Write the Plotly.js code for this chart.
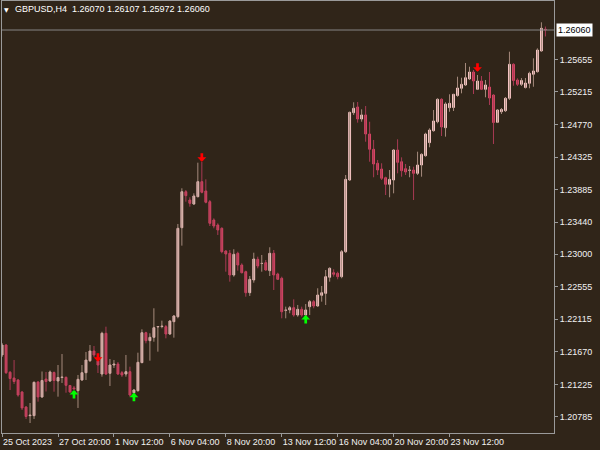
<!DOCTYPE html>
<html><head><meta charset="utf-8">
<script src="https://cdn.plot.ly/plotly-3.0.1.min.js"></script>
<style>html,body{margin:0;padding:0;background:#302519;}#chart{width:600px;height:450px;}</style>
</head><body><div id="chart"></div>
<script>
const symbolName = "GBPUSD,H4";
const opens = [1.21627,1.21763,1.21391,1.21313,1.21286,1.21122,1.20917,1.20799,1.20799,1.21258,1.21054,1.21299,1.21272,1.21388,1.21272,1.21320,1.21322,1.21211,1.21177,1.21140,1.21286,1.21385,1.21549,1.21681,1.21545,1.21367,1.21923,1.21377,1.21490,1.21504,1.21385,1.21367,1.21399,1.21112,1.21140,1.21522,1.21931,1.21822,1.21868,1.22009,1.22015,1.22013,1.21913,1.22081,1.22149,1.23363,1.23854,1.23741,1.23686,1.23786,1.23991,1.23864,1.23718,1.23468,1.23400,1.23355,1.23045,1.23014,1.22718,1.23014,1.22854,1.22763,1.22476,1.22650,1.22932,1.22875,1.22886,1.22777,1.23014,1.22732,1.22673,1.22236,1.22241,1.22272,1.22172,1.22250,1.22172,1.22286,1.22354,1.22295,1.22441,1.22468,1.22687,1.22749,1.22741,1.22695,1.23036,1.24014,1.24932,1.25010,1.24846,1.24901,1.24641,1.24433,1.24242,1.24164,1.24045,1.23955,1.24014,1.24423,1.24263,1.24168,1.24146,1.24150,1.24105,1.24218,1.24345,1.24523,1.24686,1.24809,1.25115,1.24727,1.25000,1.25003,1.25166,1.25265,1.25310,1.25392,1.25487,1.25251,1.25364,1.25251,1.25282,1.25173,1.24801,1.24945,1.24959,1.25128,1.25592,1.25378,1.25319,1.25276,1.25333,1.25456,1.25491,1.25774,1.26070];
const highs = [1.21790,1.21777,1.21408,1.21558,1.21299,1.21136,1.20931,1.20972,1.21265,1.21272,1.21402,1.21395,1.21415,1.21402,1.21490,1.21640,1.21333,1.21217,1.21204,1.21354,1.21490,1.21668,1.21763,1.21749,1.21552,1.21944,1.22013,1.21572,1.21558,1.21531,1.21408,1.21627,1.21467,1.21163,1.21658,1.21977,1.21944,1.21923,1.22264,1.22022,1.22095,1.22036,1.22104,1.22172,1.23414,1.23901,1.23877,1.23778,1.23832,1.24250,1.24263,1.24023,1.23741,1.23491,1.23423,1.23369,1.23059,1.23059,1.23069,1.23036,1.22877,1.22777,1.22704,1.23022,1.22968,1.22991,1.22923,1.23096,1.23059,1.22749,1.22695,1.22286,1.22295,1.22386,1.22309,1.22286,1.22322,1.22377,1.22377,1.22537,1.22568,1.22786,1.22823,1.22796,1.22763,1.23059,1.24082,1.24945,1.25074,1.25078,1.24978,1.25023,1.24809,1.24560,1.24287,1.24242,1.24059,1.24150,1.24433,1.24569,1.24323,1.24232,1.24205,1.24195,1.24400,1.24378,1.24659,1.24719,1.24969,1.25128,1.25128,1.25074,1.25183,1.25187,1.25423,1.25409,1.25610,1.25559,1.25514,1.25446,1.25432,1.25378,1.25487,1.25183,1.24982,1.24996,1.25146,1.25764,1.25606,1.25401,1.25405,1.25405,1.25491,1.25674,1.25810,1.26165,1.26107];
const lows = [1.21599,1.21367,1.21149,1.21231,1.21058,1.20876,1.20754,1.20699,1.20754,1.20990,1.21040,1.21129,1.21258,1.21126,1.21058,1.21245,1.21112,1.21115,1.21156,1.20904,1.21272,1.21286,1.21531,1.21599,1.21381,1.21331,1.21354,1.21204,1.21449,1.21354,1.21327,1.21331,1.21058,1.21108,1.21126,1.21518,1.21786,1.21549,1.21808,1.21672,1.21991,1.21854,1.21899,1.21863,1.22127,1.23118,1.23718,1.23650,1.23673,1.23778,1.23832,1.23696,1.23386,1.23355,1.23264,1.23014,1.22763,1.22627,1.22695,1.22777,1.22741,1.22422,1.22432,1.22613,1.22809,1.22763,1.22777,1.22704,1.22513,1.22650,1.22127,1.22127,1.22196,1.22149,1.22149,1.22149,1.22163,1.22172,1.22264,1.22286,1.22354,1.22309,1.22627,1.22695,1.22659,1.22673,1.23018,1.24000,1.24901,1.24796,1.24809,1.24536,1.24263,1.24051,1.24082,1.24014,1.23809,1.23778,1.23832,1.24105,1.24059,1.24082,1.24051,1.23741,1.24082,1.24059,1.24332,1.24460,1.24673,1.24787,1.24614,1.24605,1.24945,1.24955,1.25150,1.25196,1.25296,1.25378,1.25187,1.25241,1.25241,1.25142,1.25037,1.24505,1.24791,1.24914,1.24941,1.25105,1.25300,1.25296,1.25296,1.25262,1.25265,1.25286,1.25480,1.25764,1.25972];
const closes = [1.21763,1.21385,1.21306,1.21265,1.21081,1.20904,1.20788,1.20808,1.21254,1.21054,1.21279,1.21265,1.21395,1.21279,1.21320,1.21327,1.21213,1.21122,1.21163,1.21295,1.21385,1.21558,1.21681,1.21627,1.21490,1.21923,1.21367,1.21490,1.21504,1.21367,1.21354,1.21399,1.21081,1.21149,1.21527,1.21931,1.21822,1.21868,1.21999,1.22015,1.22022,1.21913,1.22090,1.22159,1.23355,1.23854,1.23800,1.23696,1.23796,1.23991,1.23846,1.23710,1.23423,1.23386,1.23332,1.23036,1.23004,1.22718,1.23000,1.22854,1.22749,1.22476,1.22659,1.22936,1.22841,1.22877,1.22786,1.23014,1.22718,1.22659,1.22217,1.22241,1.22272,1.22172,1.22250,1.22172,1.22241,1.22354,1.22295,1.22445,1.22476,1.22695,1.22809,1.22728,1.22695,1.23036,1.24023,1.24937,1.24992,1.24846,1.24901,1.24641,1.24433,1.24232,1.24150,1.24037,1.23955,1.24023,1.24423,1.24255,1.24141,1.24123,1.24150,1.24105,1.24218,1.24364,1.24641,1.24696,1.24819,1.25115,1.24737,1.25051,1.25060,1.25183,1.25269,1.25319,1.25409,1.25487,1.25364,1.25364,1.25251,1.25310,1.25132,1.24798,1.24969,1.24976,1.25128,1.25592,1.25371,1.25319,1.25371,1.25337,1.25469,1.25501,1.25787,1.26083,1.26060];
const buySignalBars = [18, 33, 76];
const buySignalPrices = [1.21149, 1.21112, 1.22172];
const sellSignalBars = [24, 50, 119];
const sellSignalPrices = [1.21535, 1.24263, 1.25492];
const xTickBars = [0, 14, 28, 42, 56, 70, 84, 98, 112];
const xTickLabels = ["25 Oct 2023","27 Oct 20:00","1 Nov 12:00","6 Nov 04:00","8 Nov 20:00","13 Nov 12:00","16 Nov 04:00","20 Nov 20:00","23 Nov 12:00"];
const yTickValues = [1.20785,1.21225,1.21670,1.22115,1.22555,1.23000,1.23440,1.23885,1.24325,1.24770,1.25215,1.25655];

const bg = '#302519', frame = '#9a9a9a', txt = '#f2f2f2';
const bullBody = '#ffcccc', bearBody = '#de4868';
const bullWick = '#a58a7c', bearWick = '#a83a54';
const fontFam = 'Liberation Sans, Arial, sans-serif';

const bars = opens.map((_, k) => k);
const isUp = k => closes[k] >= opens[k];

function wickTrace(up, color) {
  const x = [], y = [];
  bars.forEach(k => { if (isUp(k) === up) { x.push(k, k, null); y.push(lows[k], highs[k], null); } });
  return {type:'scatter', mode:'lines', x:x, y:y, line:{color:color, width:1}, hoverinfo:'skip', showlegend:false};
}
const bodyColors = bars.map(k => isUp(k) ? bullBody : bearBody);
const bodies = {type:'bar', x:bars, base:opens, y:closes.map((c, k) => c - opens[k]), width:0.45,
  marker:{color:bodyColors, line:{color:bodyColors, width:1}}, hoverinfo:'skip', showlegend:false};

function signalArrows(barsArr, prices, color, tailPx) {
  return barsArr.map((b, k) => ({xref:'x', yref:'y', x:b, y:prices[k], ax:0, ay:tailPx, axref:'pixel', ayref:'pixel',
    text:'', showarrow:true, arrowhead:1, arrowsize:0.55, arrowwidth:2.7, arrowcolor:color, standoff:0, startstandoff:0}));
}

const last = closes.length - 1;
const lastClose = closes[last];
const header = symbolName + '\u00a0\u00a0' + [opens[last], highs[last], lows[last], closes[last]].map(v => v.toFixed(5)).join(' ');

const layout = {
  width:600, height:450, margin:{l:2, r:46, t:1, b:17, pad:0},
  paper_bgcolor:bg, plot_bgcolor:bg, showlegend:false, bargap:0,
  font:{family:fontFam, size:9, color:txt},
  xaxis:{range:[-0.02, 138.15], tickmode:'array', tickvals:xTickBars, ticktext:xTickLabels, tickangle:0,
    ticks:'outside', ticklen:3, tickcolor:frame, tickwidth:1, showgrid:false, zeroline:false,
    showline:true, mirror:true, linecolor:frame, linewidth:1, ticklabelposition:'outside right',
    tickfont:{family:fontFam, size:9, color:txt}, fixedrange:true},
  yaxis:{side:'right', range:[1.205626, 1.264556], tickmode:'array', tickvals:yTickValues,
    ticktext:yTickValues.map(v => v.toFixed(5)), ticks:'outside', ticklen:3, tickcolor:frame, tickwidth:1,
    showgrid:false, zeroline:false, showline:true, mirror:true, linecolor:frame, linewidth:1,
    tickfont:{family:fontFam, size:9, color:txt}, fixedrange:true},
  shapes:[{type:'line', xref:'paper', x0:0, x1:1, yref:'y', y0:lastClose, y1:lastClose, line:{color:'#858585', width:1}}],
  annotations:[
    {xref:'paper', yref:'y', x:1, y:lastClose, xanchor:'left', yanchor:'middle', xshift:2, text:lastClose.toFixed(5),
     showarrow:false, bgcolor:'#ffffff', borderpad:1, font:{family:fontFam, size:9, color:'#000000'}},
    {xref:'paper', yref:'paper', x:0, y:1, xanchor:'left', yanchor:'top', xshift:0, yshift:-3, text:'▼',
     showarrow:false, font:{family:'DejaVu Sans', size:6, color:'#ffffff'}},
    {xref:'paper', yref:'paper', x:0, y:1, xanchor:'left', yanchor:'top', xshift:11, yshift:-1, text:header,
     showarrow:false, font:{family:fontFam, size:9, color:'#ffffff'}}
  ].concat(signalArrows(buySignalBars, buySignalPrices, '#00ff00', 10), signalArrows(sellSignalBars, sellSignalPrices, '#ff0000', -10))
};
Plotly.newPlot('chart', [wickTrace(true, bullWick), wickTrace(false, bearWick), bodies], layout, {displayModeBar:false, staticPlot:true});
</script>
</body></html>
